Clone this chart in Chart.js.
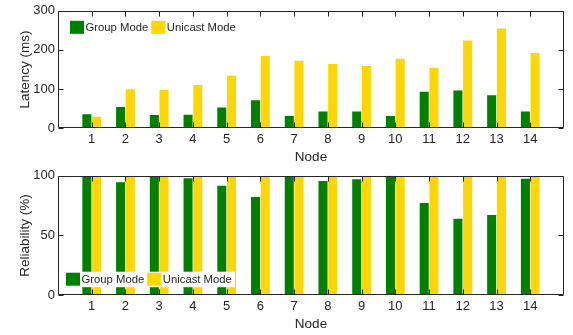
<!DOCTYPE html>
<html><head><meta charset="utf-8">
<script src="https://cdn.jsdelivr.net/npm/chart.js@4/dist/chart.umd.min.js"></script>
<style>
html,body{margin:0;padding:0;background:#fff;overflow:hidden;}
#w1{position:absolute;left:0;top:0;width:573px;height:165px;}
#w2{position:absolute;left:0;top:165px;width:573px;height:170px;}
</style></head><body>
<div id="w1"><canvas id="c1"></canvas></div>
<div id="w2"><canvas id="c2"></canvas></div>
<script>
const nodes = ['1','2','3','4','5','6','7','8','9','10','11','12','13','14'];
const seriesNames = ['Group Mode', 'Unicast Mode'];
const latencyGroup   = [35, 54, 33, 34, 52.5, 71, 31, 42, 42, 31, 92.5, 96, 84, 42];
const latencyUnicast = [29, 99, 97, 110, 134, 184, 172, 164, 159, 177, 154, 224, 255, 192];
const reliabilityGroup   = [99, 94.5, 99, 98, 91.7, 82.2, 99, 95.6, 97.2, 100, 77.2, 63.9, 67.2, 97.5];
const reliabilityUnicast = [100, 100, 100, 100, 100, 100, 100, 100, 100, 100, 100, 100, 100, 100];
const latencyTicks = [0, 100, 200, 300];
const reliabilityTicks = [0, 50, 100];

const FONT = "'Liberation Sans', Arial, Helvetica, sans-serif";
const INK = '#262626';
const GREEN = '#008000';
const GOLD = '#FFD700';

const boxPlugin = {
  id: 'boxTicks',
  afterDatasetsDraw(chart) {
    const {ctx, chartArea: a, scales: {x, y}} = chart;
    const tl = 5;
    ctx.save();
    ctx.strokeStyle = INK;
    ctx.lineWidth = 1;
    const L = Math.round(a.left) + 0.5, R = Math.round(a.right) - 0.5;
    const T = Math.round(a.top) + 0.5, B = Math.round(a.bottom) - 0.5;
    ctx.beginPath();
    ctx.rect(L, T, R - L, B - T);
    for (let i = 1; i <= nodes.length; i++) {
      const px = Math.round(x.getPixelForValue(i)) + 0.5;
      ctx.moveTo(px, B); ctx.lineTo(px, B - tl);
      ctx.moveTo(px, T); ctx.lineTo(px, T + tl);
    }
    y.ticks.forEach(t => {
      const py = Math.round(y.getPixelForValue(t.value)) + 0.5;
      ctx.moveTo(L, py); ctx.lineTo(L + tl, py);
      ctx.moveTo(R, py); ctx.lineTo(R - tl, py);
    });
    ctx.stroke();
    ctx.restore();
  }
};

const legendPlugin = {
  id: 'inLegend',
  afterDraw(chart, args, opts) {
    const {ctx, chartArea: a} = chart;
    const x0 = a.left + opts.left;
    const y0 = opts.top !== undefined ? a.top + opts.top : a.bottom - opts.bottom;
    const h = 15.5, sw = 14, gap = 1.5, sep = 3;
    ctx.save();
    ctx.font = '11.3px ' + FONT;
    let w = 1;
    const items = chart.data.datasets.map(ds => ({label: ds.label, color: ds.backgroundColor}));
    items.forEach(it => { w += sw + gap + ctx.measureText(it.label).width + sep; });
    ctx.fillStyle = '#fff';
    ctx.fillRect(x0, y0, w, h);
    let x = x0 + 1;
    ctx.textBaseline = 'middle';
    items.forEach(it => {
      ctx.fillStyle = it.color;
      ctx.fillRect(x, y0 + 1, sw, h - 2.5);
      x += sw + gap;
      ctx.fillStyle = INK;
      ctx.fillText(it.label, x, y0 + h / 2);
      x += ctx.measureText(it.label).width + sep;
    });
    ctx.restore();
  }
};

function makeChart(id, g, u, ticks, yTitle, pad, xHeight, xTitlePadBottom, legendOpts) {
  const labels = [''].concat(nodes, ['']);
  return new Chart(document.getElementById(id), {
    type: 'bar',
    data: {
      labels: labels,
      datasets: [
        {label: seriesNames[0], data: [null].concat(g, [null]), backgroundColor: GREEN},
        {label: seriesNames[1], data: [null].concat(u, [null]), backgroundColor: GOLD}
      ]
    },
    options: {
      responsive: true,
      maintainAspectRatio: false,
      animation: false,
      devicePixelRatio: 1,
      categoryPercentage: 0.576,
      barPercentage: 0.93,
      layout: {padding: pad},
      plugins: {
        legend: {display: false},
        tooltip: {enabled: false},
        inLegend: legendOpts
      },
      scales: {
        x: {
          type: 'category',
          offset: false,
          grid: {display: false, drawTicks: false},
          border: {display: false},
          ticks: {autoSkip: false, maxRotation: 0, padding: 4, color: INK, font: {family: FONT, size: 13}},
          title: {display: true, text: 'Node', color: INK, font: {family: FONT, size: 13.5}, padding: {top: 0, bottom: xTitlePadBottom}},
          afterFit: s => { s.height = xHeight; }
        },
        y: {
          type: 'linear',
          min: ticks[0],
          max: ticks[ticks.length - 1],
          grid: {display: false, drawTicks: false},
          border: {display: false},
          afterBuildTicks: s => { s.ticks = ticks.map(v => ({value: v})); },
          ticks: {padding: 3, color: INK, font: {family: FONT, size: 13}},
          title: {display: true, text: yTitle, color: INK, font: {family: FONT, size: 13.5}, padding: {top: 17, bottom: 0}},
          afterFit: s => { s.width = 58; }
        }
      }
    },
    plugins: [boxPlugin, legendPlugin]
  });
}

makeChart('c1', latencyGroup, latencyUnicast, latencyTicks, 'Latency (ms)',
  {top: 8, right: 9, left: 0, bottom: 0}, 37, 0, {left: 11, top: 9});
makeChart('c2', reliabilityGroup, reliabilityUnicast, reliabilityTicks, 'Reliability (%)',
  {top: 10, right: 9, left: 0, bottom: 0}, 40, 3, {left: 7, bottom: 23.3});
</script>
</body></html>
